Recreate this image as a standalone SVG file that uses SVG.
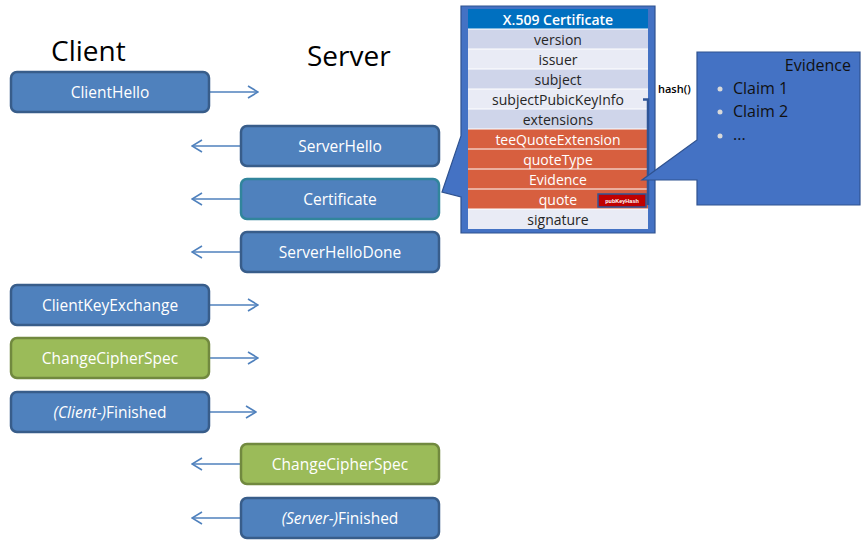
<svg xmlns="http://www.w3.org/2000/svg" width="864" height="543" viewBox="0 0 864 543">
<defs>
<marker id="ah" viewBox="0 0 12 14" refX="11" refY="7" markerWidth="12" markerHeight="14" markerUnits="userSpaceOnUse" orient="auto">
<path d="M1,1 L11,7 L1,13" fill="none" stroke="#4F81BD" stroke-width="1.6"/>
</marker>
<style>
.blue{fill:#4F81BD;stroke:#385D8A;stroke-width:2.5}
.teal{fill:#4F81BD;stroke:#31859C;stroke-width:2.5}
.green{fill:#9BBB59;stroke:#71893F;stroke-width:2.5}
.bt{font-family:"Open Sans","Liberation Sans",sans-serif;font-size:15.5px;fill:#ffffff;text-anchor:middle}
.title{font-family:"Open Sans","Liberation Sans",sans-serif;font-size:28px;fill:#000000}
.conn line{stroke:#4F81BD;stroke-width:1.5;marker-end:url(#ah)}
.row{font-family:"Open Sans","Liberation Sans",sans-serif;font-size:14px;fill:#262626;text-anchor:middle}
.rowr{font-family:"Open Sans","Liberation Sans",sans-serif;font-size:14px;fill:#ffffff;text-anchor:middle}
.lt{fill:#E9EBF5}
.dk{fill:#CFD5EA}
.rd{fill:#D75F3F}
.ev{font-family:"Open Sans","Liberation Sans",sans-serif;font-size:16px;fill:#111111}
</style>
</defs>
<rect width="864" height="543" fill="#ffffff"/>

<text class="title" x="51" y="61">Client</text>
<text class="title" x="307" y="66">Server</text>

<g id="connectors" class="conn">
<line x1="209" y1="92" x2="258" y2="92"/>
<line x1="241" y1="146" x2="192" y2="146"/>
<line x1="241" y1="199" x2="192" y2="199"/>
<line x1="241" y1="252" x2="192" y2="252"/>
<line x1="209" y1="305" x2="258" y2="305"/>
<line x1="209" y1="358" x2="258" y2="358"/>
<line x1="209" y1="412" x2="256" y2="412"/>
<line x1="241" y1="464" x2="192" y2="464"/>
<line x1="241" y1="518" x2="192" y2="518"/>
</g>

<g id="clienthello"><rect class="blue" x="11" y="72" width="198" height="40" rx="6"/><text class="bt" x="110" y="97.5">ClientHello</text></g>
<g id="serverhello"><rect class="blue" x="241" y="126" width="198" height="40" rx="6"/><text class="bt" x="340" y="151.5">ServerHello</text></g>
<g id="certificate"><rect class="teal" x="241" y="179" width="198" height="40" rx="6"/><text class="bt" x="340" y="204.5">Certificate</text></g>
<g id="serverhellodone"><rect class="blue" x="241" y="232" width="198" height="40" rx="6"/><text class="bt" x="340" y="257.5">ServerHelloDone</text></g>
<g id="clientkeyexchange"><rect class="blue" x="11" y="285" width="198" height="40" rx="6"/><text class="bt" x="110" y="310.5">ClientKeyExchange</text></g>
<g id="clientccs"><rect class="green" x="11" y="338" width="198" height="40" rx="6"/><text class="bt" x="110" y="363.5">ChangeCipherSpec</text></g>
<g id="clientfinished"><rect class="blue" x="11" y="392" width="198" height="40" rx="6"/><text class="bt" x="110" y="417.5"><tspan font-style="italic">(Client-)</tspan>Finished</text></g>
<g id="serverccs"><rect class="green" x="241" y="444" width="198" height="40" rx="6"/><text class="bt" x="340" y="469.5">ChangeCipherSpec</text></g>
<g id="serverfinished"><rect class="blue" x="241" y="498" width="198" height="40" rx="6"/><text class="bt" x="340" y="523.5"><tspan font-style="italic">(Server-)</tspan>Finished</text></g>

<g id="x509">
<path d="M461,6 H655 V233 H461 V197 L442,192 L461,136 Z" fill="#4472C4" stroke="#2F528F" stroke-width="1.2"/>
<rect x="468" y="9" width="180" height="20" fill="#0070C0"/>
<text x="558" y="24.5" font-family="'Open Sans','Liberation Sans',sans-serif" font-size="14" font-weight="600" fill="#ffffff" text-anchor="middle">X.509 Certificate</text>
<rect class="dk" x="468" y="29" width="180" height="20"/>
<rect class="lt" x="468" y="49" width="180" height="20"/>
<rect class="dk" x="468" y="69" width="180" height="20"/>
<rect class="lt" x="468" y="89" width="180" height="20"/>
<rect class="dk" x="468" y="109" width="180" height="20"/>
<rect class="rd" x="468" y="129" width="180" height="20"/>
<rect class="rd" x="468" y="149" width="180" height="20"/>
<rect class="rd" x="468" y="169" width="180" height="20"/>
<rect class="rd" x="468" y="189" width="180" height="20"/>
<rect class="lt" x="468" y="209" width="180" height="20"/>
<g stroke="#ffffff" stroke-width="1">
<line x1="468" y1="29" x2="648" y2="29"/><line x1="468" y1="49" x2="648" y2="49"/><line x1="468" y1="69" x2="648" y2="69"/><line x1="468" y1="89" x2="648" y2="89"/><line x1="468" y1="109" x2="648" y2="109"/><line x1="468" y1="129" x2="648" y2="129"/><line x1="468" y1="149" x2="648" y2="149"/><line x1="468" y1="169" x2="648" y2="169"/><line x1="468" y1="189" x2="648" y2="189"/><line x1="468" y1="209" x2="648" y2="209"/>
</g>
<text class="row" x="558" y="44.5">version</text>
<text class="row" x="558" y="64.5">issuer</text>
<text class="row" x="558" y="84.5">subject</text>
<text class="row" x="558" y="104.5">subjectPubicKeyInfo</text>
<text class="row" x="558" y="124.5">extensions</text>
<text class="rowr" x="558" y="144.5">teeQuoteExtension</text>
<text class="rowr" x="558" y="164.5">quoteType</text>
<text class="rowr" x="558" y="184.5">Evidence</text>
<text class="rowr" x="558" y="204.5">quote</text>
<text class="row" x="558" y="224.5">signature</text>
</g>

<g id="pubkeyhash">
<path d="M643,99.5 H648 V205" fill="none" stroke="#2F5597" stroke-width="2.5"/>
<rect x="598" y="194" width="48" height="13" fill="#C00000" stroke="#2F5597" stroke-width="1.5"/>
<text x="622" y="203" font-family="'Liberation Sans',sans-serif" font-size="5.5" font-weight="bold" fill="#ffffff" text-anchor="middle">pubKeyHash</text>
</g>

<text id="hash" x="658" y="93" font-family="'Open Sans','Liberation Sans',sans-serif" font-size="11" font-weight="600" fill="#000000">hash()</text>

<g id="evidence">
<path d="M697,52 H860 V205 H697 V180 H642 L697,140 Z" fill="#4472C4" stroke="#2F528F" stroke-width="1.2"/>
<text class="ev" x="851" y="71" text-anchor="end">Evidence</text>
<circle cx="720" cy="89" r="2.5" fill="#D9D9D9"/>
<circle cx="720" cy="112" r="2.5" fill="#D9D9D9"/>
<circle cx="720" cy="136" r="2.5" fill="#D9D9D9"/>
<text class="ev" x="733" y="94">Claim 1</text>
<text class="ev" x="733" y="117">Claim 2</text>
<text class="ev" x="733" y="140">...</text>
</g>
</svg>
